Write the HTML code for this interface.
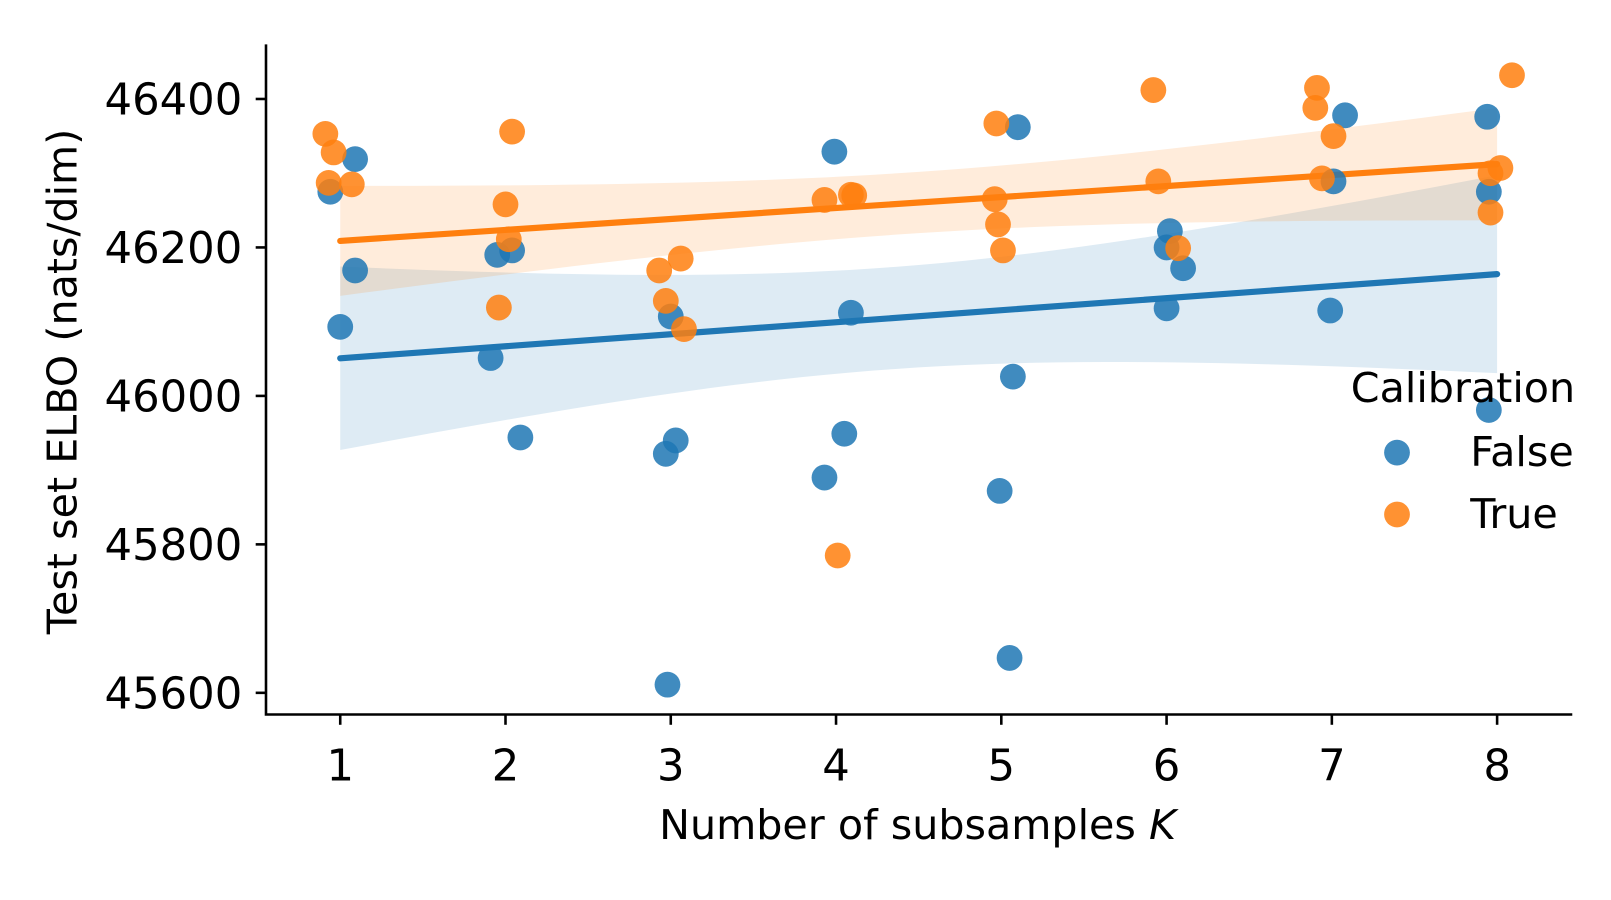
<!DOCTYPE html>
<html><head><meta charset="utf-8"><style>
html,body{margin:0;padding:0;background:#fff;}
svg{display:block;font-family:"DejaVu Sans","Liberation Sans",sans-serif;}
</style></head><body>
<svg id="chart" width="1611" height="900" viewBox="0 0 1611 900">
<g transform="scale(1.031)">
<g id="bands"></g><g id="lines"></g><g id="points"></g><g id="axes"></g>
<g>
<text x="1419" y="390" font-size="40" text-anchor="middle">Calibration</text>
<circle cx="1355" cy="439" r="12.5" fill="#1f77b4" fill-opacity="0.85"/>
<text x="1426" y="452" font-size="40">False</text>
<circle cx="1355" cy="499" r="12.5" fill="#ff7f0e" fill-opacity="0.85"/>
<text x="1426" y="512" font-size="40">True</text>
</g>
</g>
</svg>
<script>
const falseX=[0.94,1.09,1.09,1.0,1.95,2.04,1.91,2.09,3.0,2.97,3.03,2.98,3.99,4.09,4.05,3.93,5.10,5.07,4.99,5.05,6.02,6.0,6.1,6.0,7.08,7.01,6.99,7.94,7.95,7.95];
const falseY=[46275,46319,46169,46093,46190,46196,46051,45944,46107,45922,45940,45611,46329,46112,45949,45890,46362,46026,45872,45647,46222,46200,46172,46118,46378,46289,46115,46376,46275,45981];
const trueX=[0.91,0.96,0.93,1.07,2.04,2.0,2.02,1.96,2.93,3.06,2.97,3.08,3.93,4.09,4.11,4.01,4.97,4.96,4.98,5.01,5.92,5.95,6.07,6.91,6.90,7.01,6.94,8.09,8.02,7.96,7.96];
const trueY=[46353,46328,46287,46285,46356,46258,46211,46119,46169,46185,46128,46090,46264,46271,46270,45785,46367,46265,46231,46196,46412,46289,46199,46415,46388,46350,46293,46432,46307,46300,46247];
const xTicks=[1,2,3,4,5,6,7,8];
const yTicks=[45600,45800,46000,46200,46400];
const xs=v=>330+(v-1)*160.3;
const ys=v=>96+(46400-v)*0.72;
const NS='http://www.w3.org/2000/svg';
function mk(t,a,p){const e=document.createElementNS(NS,t);for(const k in a)e.setAttribute(k,a[k]);p.appendChild(e);return e;}
const series=[{x:falseX,y:falseY,c:'#1f77b4',n:'false'},{x:trueX,y:trueY,c:'#ff7f0e',n:'true'}];
const bands=document.getElementById('bands'),lines=document.getElementById('lines'),pts=document.getElementById('points'),axes=document.getElementById('axes');
series.forEach(s=>{
 const n=s.x.length;const mx=s.x.reduce((a,b)=>a+b)/n,my=s.y.reduce((a,b)=>a+b)/n;
 let sxx=0,sxy=0;for(let i=0;i<n;i++){sxx+=(s.x[i]-mx)**2;sxy+=(s.x[i]-mx)*(s.y[i]-my);}
 const b=sxy/sxx,a=my-b*mx;let sse=0;for(let i=0;i<n;i++)sse+=(s.y[i]-a-b*s.x[i])**2;
 const se=Math.sqrt(sse/(n-2));
 const up=[],lo=[];
 for(let k=0;k<=50;k++){const x=1+7*k/50;const h=1.9*se*Math.sqrt(1/n+(x-mx)**2/sxx);const f=a+b*x;up.push(xs(x)+','+ys(f+h));lo.unshift(xs(x)+','+ys(f-h));}
 const band=mk('polygon',{points:up.concat(lo).join(' '),fill:s.c,'fill-opacity':0.15},bands);
 
 
 const ln=mk('line',{x1:xs(1),y1:ys(a+b),x2:xs(8),y2:ys(a+8*b),stroke:s.c,'stroke-width':6,'stroke-linecap':'round'},lines);
 
 
 for(let i=0;i<n;i++){const c=mk('circle',{cx:xs(s.x[i]),cy:ys(s.y[i]),r:12.5,fill:s.c,'fill-opacity':0.85},pts);
 
 }
});
const sp=mk('path',{d:'M258,43 V693 H1525',fill:'none',stroke:'#000','stroke-width':2.5},axes);


xTicks.forEach(t=>{mk('line',{x1:xs(t),x2:xs(t),y1:693,y2:703,stroke:'#000','stroke-width':2.5},axes);
 const tx=mk('text',{x:xs(t),y:757,'font-size':42,'text-anchor':'middle'},axes);tx.textContent=t;
 
 });
yTicks.forEach(t=>{mk('line',{x1:248,x2:258,y1:ys(t),y2:ys(t),stroke:'#000','stroke-width':2.5},axes);
 const tx=mk('text',{x:235,y:ys(t)+15,'font-size':42,'text-anchor':'end'},axes);tx.textContent=t;
 
 });
const xt=mk('text',{x:890,y:814,'font-size':40,'text-anchor':'middle'},axes);
xt.innerHTML='Number of subsamples <tspan font-style="italic">K</tspan>';


const yt=mk('text',{x:0,y:0,'font-size':40,'text-anchor':'middle',transform:'translate(74,370) rotate(-90)'},axes);
yt.textContent='Test set ELBO (nats/dim)';


</script>
</body></html>
